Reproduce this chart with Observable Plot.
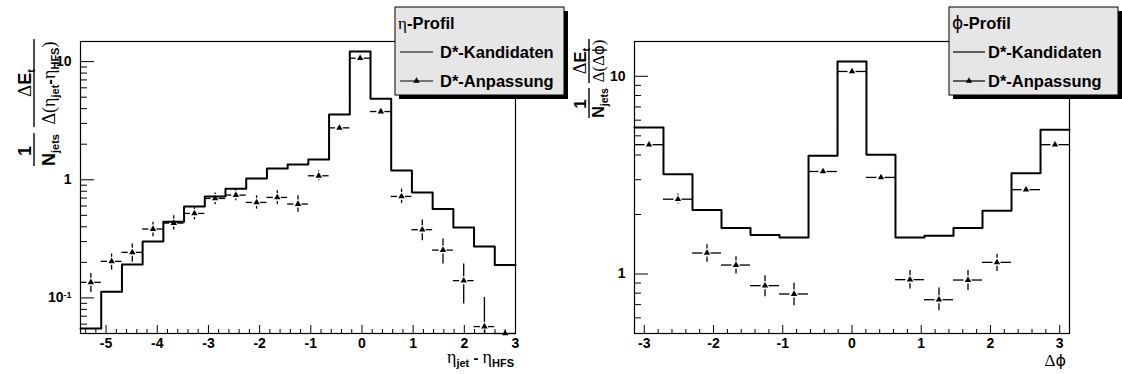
<!DOCTYPE html>
<html><head><meta charset="utf-8">
<script src="https://cdn.jsdelivr.net/npm/d3@7"></script>
<script src="https://cdn.jsdelivr.net/npm/@observablehq/plot@0.6"></script>
<style>
body{margin:0;background:#fff;}
#wrap{position:relative;width:1122px;height:374px;overflow:hidden;background:#fff;}
#wrap > svg{position:absolute;top:0;}
</style></head><body><div id="wrap"></div>
<script>
// ---------- eta profile (left) ----------
const etaEdges = [-5.5, -5.095, -4.69, -4.286, -3.881, -3.476, -3.071, -2.667, -2.262, -1.857, -1.452,
  -1.048, -0.643, -0.238, 0.167, 0.571, 0.976, 1.381, 1.786, 2.19, 2.595, 3.0];
const etaCandidates = [0.055, 0.113, 0.192, 0.301, 0.442, 0.595, 0.723, 0.839, 1.026, 1.247, 1.346,
  1.485, 3.56, 12.15, 4.86, 1.199, 0.781, 0.565, 0.395, 0.273, 0.190];
const etaFit = [0.1355, 0.204, 0.243, 0.383, 0.430, 0.519, 0.695, 0.742, 0.643, 0.709, 0.623,
  1.081, 2.75, 10.69, 3.78, 0.723, 0.378, 0.254, 0.140, 0.0572, 0.05];
const etaFitLow = [0.111, 0.172, 0.200, 0.330, 0.376, 0.456, 0.615, 0.665, 0.565, 0.615, 0.530,
  0.98, 2.62, 10.3, 3.6, 0.631, 0.305, 0.194, 0.089, 0.05, 0.05];
const etaFitHigh = [0.161, 0.235, 0.286, 0.436, 0.496, 0.591, 0.772, 0.834, 0.732, 0.807, 0.732,
  1.19, 2.9, 11.1, 3.95, 0.834, 0.456, 0.315, 0.194, 0.101, 0.052];
const etaXTicks = [-5, -4, -3, -2, -1, 0, 1, 2, 3];
const etaYTicks = [0.1, 1, 10];
const etaYMinor = [0.05, 0.06, 0.07, 0.08, 0.09, 0.2, 0.3, 0.4, 0.5, 0.6, 0.7, 0.8, 0.9, 2, 3, 4, 5, 6, 7, 8, 9];

// ---------- phi profile (right) ----------
const phiEdges = [-3.142, -2.723, -2.304, -1.885, -1.466, -1.047, -0.628, -0.209, 0.209, 0.628,
  1.047, 1.466, 1.885, 2.304, 2.723, 3.142];
const phiCandidates = [5.51, 3.20, 2.11, 1.708, 1.574, 1.531, 3.96, 11.88, 4.01, 1.531, 1.562, 1.708, 2.09, 3.23, 5.36];
const phiFit = [4.51, 2.39, 1.277, 1.11, 0.873, 0.792, 3.30, 10.58, 3.08, 0.936, 0.741, 0.932, 1.145, 2.67, 4.51];
const phiFitLow = [4.35, 2.26, 1.145, 1.0, 0.768, 0.691, 3.2, 10.3, 2.98, 0.84, 0.652, 0.824, 1.03, 2.58, 4.35];
const phiFitHigh = [4.68, 2.54, 1.406, 1.223, 0.98, 0.897, 3.4, 10.9, 3.18, 1.04, 0.85, 1.04, 1.26, 2.77, 4.68];
const phiXTicks = [-3, -2, -1, 0, 1, 2, 3];
const phiYTicks = [1, 10];
const phiYMinor = [0.5, 0.6, 0.7, 0.8, 0.9, 2, 3, 4, 5, 6, 7, 8, 9];

const legendHeaders = ["η", "ϕ"];
const legendLabels = ["D*-Kandidaten", "D*-Anpassung"];

const FONT = "'Liberation Sans', Arial, Helvetica, sans-serif";
const GREEK = "'Liberation Serif', 'DejaVu Serif', serif";
const PHI = "'DejaVu Sans', sans-serif";
const W = 561, H = 374, MT = 41, MB = 41;

function panel({edges, cand, fit, lo, hi, xDomain, yDomain, xTicks, xMinor, yTicks, yMinor, marginLeft, marginRight, minRatio}) {
  const n = cand.length;
  const bins = cand.map((v, i) => ({x1: edges[i], x2: edges[i + 1], xc: (edges[i] + edges[i + 1]) / 2,
    cand: v, fit: fit[i], lo: lo[i], hi: hi[i]}));
  const steps = bins.map(b => ({x: b.x1, y: b.cand})).concat([{x: edges[n], y: cand[n - 1]}]);
  const pw = W - marginLeft - marginRight, ph = H - MT - MB;
  const plot = Plot.plot({
    width: W, height: H, marginTop: MT, marginBottom: MB, marginLeft, marginRight,
    style: {fontFamily: FONT, fontSize: "14px", fontWeight: "bold", color: "black", background: "white"},
    x: {domain: xDomain},
    y: {type: "log", domain: yDomain},
    marks: [
      Plot.line(steps, {x: "x", y: "y", curve: "step-after", stroke: "black", strokeWidth: 2}),
      Plot.ruleY(bins, {y: "fit", x1: "x1", x2: "xc", insetRight: 4, stroke: "black", strokeWidth: 1.3}),
      Plot.ruleY(bins, {y: "fit", x1: "xc", x2: "x2", insetLeft: 4, stroke: "black", strokeWidth: 1.3}),
      Plot.ruleX(bins, {filter: d => d.hi / d.fit > minRatio, x: "xc", y1: "hi", y2: "fit", insetBottom: 4, stroke: "black", strokeWidth: 1.3}),
      Plot.ruleX(bins, {filter: d => d.fit / d.lo > minRatio, x: "xc", y1: "fit", y2: "lo", insetTop: 4, stroke: "black", strokeWidth: 1.3}),
      Plot.dot(bins, {x: "xc", y: "fit", symbol: "triangle", r: 2.4, fill: "black", stroke: "none"}),
      Plot.ruleX(xTicks, {x: d => d, insetTop: ph - 8, stroke: "black"}),
      Plot.ruleX(xMinor, {x: d => d, insetTop: ph - 4, stroke: "black"}),
      Plot.ruleY(yTicks, {y: d => d, insetRight: pw - 14, stroke: "black"}),
      Plot.ruleY(yMinor, {y: d => d, insetRight: pw - 7, stroke: "black"}),
      Plot.frame({stroke: "black", strokeWidth: 1.2}),
      Plot.axisX({ticks: xTicks, tickSize: 0, tickPadding: 5, label: null, tickFormat: d => String(d),
        fontSize: 14, fontWeight: "bold"}),
      Plot.axisY({ticks: yTicks, tickSize: 0, tickPadding: 9, label: null,
        tickFormat: d => d === 0.1 ? "10^-1" : String(d), fontSize: 14, fontWeight: "bold"})
    ]
  });
  d3.select(plot).selectAll("text").filter(function() { return this.textContent === "10^-1"; })
    .each(function() {
      const t = d3.select(this); t.text("");
      t.append("tspan").text("10");
      t.append("tspan").attr("dy", "-0.5em").attr("font-size", 9).text("-1");
    });
  return plot;
}

const wrap = document.getElementById("wrap");
const left = panel({edges: etaEdges, cand: etaCandidates, fit: etaFit, lo: etaFitLow, hi: etaFitHigh,
  xDomain: [-5.5, 3], yDomain: [0.05, 14.8], xTicks: etaXTicks,
  xMinor: d3.range(-5.4, 3.01, 0.2).map(v => +v.toFixed(1)).filter(v => !etaXTicks.includes(v)),
  yTicks: etaYTicks, yMinor: etaYMinor, marginLeft: 80, marginRight: 46, minRatio: 1.09});
left.style.left = "0px";
wrap.appendChild(left);
const right = panel({edges: phiEdges, cand: phiCandidates, fit: phiFit, lo: phiFitLow, hi: phiFitHigh,
  xDomain: [-Math.PI, Math.PI], yDomain: [0.5, 15], xTicks: phiXTicks,
  xMinor: d3.range(-3, 3.01, 0.2).map(v => +v.toFixed(1)).filter(v => !phiXTicks.includes(v)),
  yTicks: phiYTicks, yMinor: phiYMinor, marginLeft: 73, marginRight: 53, minRatio: 1.05});
right.style.left = "561px";
wrap.appendChild(right);

// ---------- overlay: titles and legends ----------
const ov = d3.create("svg").attr("width", 1122).attr("height", 374)
  .style("left", "0px").style("font-family", FONT).attr("fill", "black");

function rich(g, x, y, anchor, parts) {
  const t = g.append("text").attr("x", x).attr("y", y).attr("text-anchor", anchor);
  for (const p of parts) {
    const s = t.append("tspan").text(p.t)
      .attr("font-size", p.size || 16)
      .attr("font-weight", p.w || "bold")
      .attr("font-family", p.f || FONT);
    if (p.dy) s.attr("dy", p.dy);
  }
  return t;
}

// left y title
{
  const g = ov.append("g").attr("transform", "translate(34,166) rotate(-90)");
  rich(g, 15, -3, "middle", [{t: "1", size: 18}]);
  g.append("line").attr("x1", 0).attr("x2", 33).attr("y1", 0).attr("y2", 0).attr("stroke", "black").attr("stroke-width", 1.4);
  rich(g, 16, 21, "middle", [{t: "N", size: 18}, {t: "jets", size: 11, dy: 4}]);
  g.append("line").attr("x1", 39).attr("x2", 127).attr("y1", 0).attr("y2", 0).attr("stroke", "black").attr("stroke-width", 1.4);
  rich(g, 83, -3, "middle", [{t: "Δ", size: 19, w: "normal", f: GREEK}, {t: "E", size: 18}, {t: "t", size: 11, dy: 4}]);
  rich(g, 83, 21, "middle", [{t: "Δ(η", size: 18, w: "normal", f: GREEK}, {t: "jet", size: 11, dy: 4},
    {t: "-", size: 17, dy: -4}, {t: "η", size: 18, w: "normal", f: GREEK}, {t: "HFS", size: 11, dy: 4},
    {t: ")", size: 18, w: "normal", f: GREEK, dy: -4}]);
}
// right y title
{
  const g = ov.append("g").attr("transform", "translate(589,118) rotate(-90)");
  rich(g, 14, -3, "middle", [{t: "1", size: 17}]);
  g.append("line").attr("x1", 0).attr("x2", 30).attr("y1", 0).attr("y2", 0).attr("stroke", "black").attr("stroke-width", 1.4);
  rich(g, 15, 15, "middle", [{t: "N", size: 16}, {t: "jets", size: 10.5, dy: 4}]);
  g.append("line").attr("x1", 35).attr("x2", 79).attr("y1", 0).attr("y2", 0).attr("stroke", "black").attr("stroke-width", 1.4);
  rich(g, 57, -3, "middle", [{t: "Δ", size: 18, w: "normal", f: GREEK}, {t: "E", size: 17}, {t: "t", size: 11, dy: 4}]);
  rich(g, 57, 15, "middle", [{t: "Δ(Δ", size: 17, w: "normal", f: GREEK}, {t: "ϕ", size: 15, w: "normal", f: PHI},
    {t: ")", size: 17, w: "normal", f: GREEK}]);
}
// x titles
rich(ov, 514, 363, "end", [{t: "η", size: 18, w: "normal", f: GREEK}, {t: "jet", size: 11, dy: 4},
  {t: " - ", size: 15, dy: -4}, {t: "η", size: 18, w: "normal", f: GREEK}, {t: "HFS", size: 11, dy: 4}]);
rich(ov, 1066, 366, "end", [{t: "Δ", size: 17, w: "normal", f: GREEK}, {t: "ϕ", size: 16, w: "normal", f: PHI}]);

// legends
function legend(x, y, w, h, greek, lineX1, lineX2, textX) {
  const g = ov.append("g");
  g.append("rect").attr("x", x + 4).attr("y", y + 4).attr("width", w).attr("height", h).attr("fill", "black");
  g.append("rect").attr("x", x).attr("y", y).attr("width", w).attr("height", h)
    .attr("fill", "#e6e6e6").attr("stroke", "black").attr("stroke-width", 1);
  rich(g, x + 3, y + 22, "start", [{t: greek, size: 17, w: "normal", f: greek === "ϕ" ? PHI : GREEK}, {t: "-Profil", size: 16.5}]);
  const y1 = y + 45, y2 = y + 74;
  g.append("line").attr("x1", lineX1).attr("x2", lineX2).attr("y1", y1).attr("y2", y1).attr("stroke", "black").attr("stroke-width", 1.2);
  rich(g, textX, y1 + 6, "start", [{t: legendLabels[0], size: 16.5}]);
  g.append("line").attr("x1", lineX1).attr("x2", lineX2).attr("y1", y2).attr("y2", y2).attr("stroke", "black").attr("stroke-width", 1.2);
  g.append("path").attr("d", d3.symbol(d3.symbolTriangle, 2.4 * 2.4 * Math.PI)())
    .attr("transform", `translate(${(lineX1 + lineX2) / 2},${y2})`).attr("fill", "black");
  rich(g, textX, y2 + 6, "start", [{t: legendLabels[1], size: 16.5}]);
}
legend(395, 7, 169, 88, legendHeaders[0], 400, 433, 440);
legend(949, 7, 169, 88, legendHeaders[1], 953, 985, 988);

wrap.appendChild(ov.node());
</script></body></html>
